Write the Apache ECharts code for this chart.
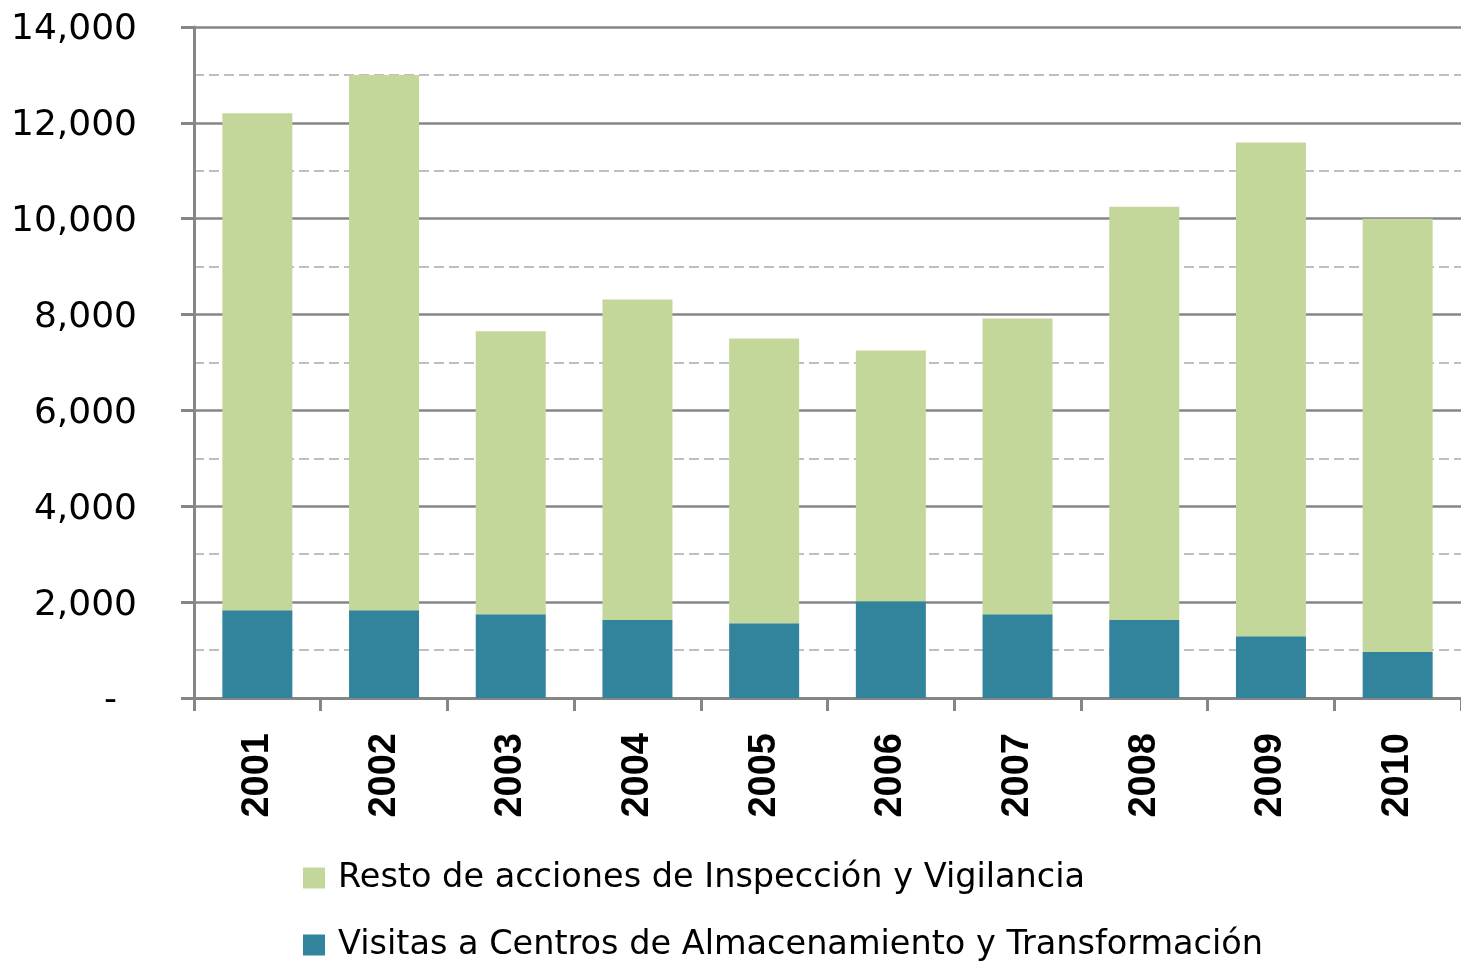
<!DOCTYPE html>
<html>
<head>
<meta charset="utf-8">
<script src="https://cdn.jsdelivr.net/npm/echarts@6/dist/echarts.min.js"></script>
<style>html,body{margin:0;padding:0;background:#fff;}#c{width:1461px;height:962px;}</style>
</head>
<body>
<div id="c"></div>
<script>
var years = ['2001','2002','2003','2004','2005','2006','2007','2008','2009','2010'];
var visitas = [1830, 1830, 1750, 1625, 1560, 2020, 1750, 1625, 1290, 960];
var resto = [10370, 11170, 5900, 6690, 5940, 5230, 6170, 8625, 10300, 9040];
var seriesNames = ['Resto de acciones de Inspección y Vigilancia', 'Visitas a Centros de Almacenamiento y Transformación'];

var legendText = { fontFamily: 'DejaVu Sans', fontSize: 33.5, color: '#000', padding: [0, 0, 0, 8] };
var chart = echarts.init(document.getElementById('c'));
chart.setOption({
  animation: false,
  grid: { left: 194, top: 27, width: 1277, bottom: 264, containLabel: false },
  legend: [
    { left: 298, top: 856, itemWidth: 22, itemHeight: 21, icon: 'rect', data: [seriesNames[0]], textStyle: legendText },
    { left: 298, top: 923, itemWidth: 22, itemHeight: 21, icon: 'rect', data: [seriesNames[1]], textStyle: legendText }
  ],
  xAxis: {
    type: 'category',
    data: years,
    axisLine: { lineStyle: { color: '#868686', width: 3 } },
    axisTick: { show: true, length: 13, lineStyle: { color: '#868686', width: 3 } },
    axisLabel: { rotate: 90, margin: 35, fontFamily: 'Liberation Sans', fontWeight: 'bold', fontSize: 38, color: '#000' }
  },
  yAxis: {
    type: 'value',
    min: 0, max: 14000, interval: 2000,
    axisLine: { show: true, lineStyle: { color: '#868686', width: 3 } },
    axisTick: { show: true, length: 13, lineStyle: { color: '#868686', width: 3 } },
    axisLabel: {
      margin: 57, fontFamily: 'DejaVu Sans', fontSize: 36, color: '#000', padding: [6, 0, 0, 0],
      formatter: function (v) { return v === 0 ? '{z|-}' : v.toLocaleString('en-US'); },
      rich: { z: { fontFamily: 'DejaVu Sans', fontSize: 36, color: '#000', padding: [0, 20, 0, 0] } }
    },
    splitLine: { show: true, lineStyle: { color: '#868686', width: 2.5 } },
    minorTick: { show: false, splitNumber: 2 },
    minorSplitLine: { show: true, lineStyle: { color: '#bfbfbf', width: 2, type: [10, 5] } }
  },
  series: [
    { name: seriesNames[1], type: 'bar', stack: 't', barWidth: 70, data: visitas, itemStyle: { color: '#31849B' } },
    { name: seriesNames[0], type: 'bar', stack: 't', barWidth: 70, data: resto, itemStyle: { color: '#C4D79B' } }
  ]
});
</script>
</body>
</html>
